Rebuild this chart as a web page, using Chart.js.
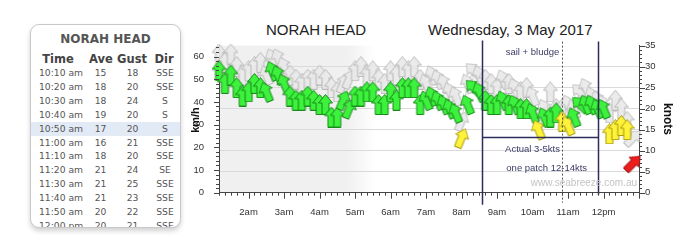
<!DOCTYPE html>
<html>
<head>
<meta charset="utf-8">
<script src="https://cdn.jsdelivr.net/npm/chart.js@4.4.1/dist/chart.umd.min.js"></script>
<style>
body { margin:0; background:#fff; width:700px; height:240px; overflow:hidden; position:relative; font-family:"DejaVu Sans", Verdana, sans-serif; }
#box { position:absolute; left:30px; top:24px; width:149px; height:202px; border:1px solid #c9c9c9; border-radius:9px; box-shadow:0 3px 5px rgba(0,0,0,0.18); overflow:hidden; background:#fff; }
#box .ttl { position:absolute; left:0; width:149px; top:7px; text-align:center; font-weight:bold; font-size:12px; color:#555; }
.row { position:absolute; left:0; width:149px; height:14px; font-size:9.2px; color:#555; }
.row span { position:absolute; top:0; line-height:14px; }
.row .c { width:40px; text-align:center; }
.hdr { font-weight:bold; font-size:11.5px; color:#444; }
.hl { background:#e2eaf5; }
#wrap { position:absolute; left:185px; top:0; }
.title { position:absolute; font-family:"Liberation Sans", Arial, sans-serif; font-size:15px; color:#222; line-height:18px; }
</style>
</head>
<body>
<div id="box"><div class="ttl">NORAH HEAD</div></div>
<div class="title" style="left:266px; top:21px;">NORAH HEAD</div>
<div class="title" style="left:428px; top:21px;">Wednesday, 3 May 2017</div>
<div id="wrap"><canvas id="c" width="515" height="240"></canvas></div>
<script>
// 10分ごとの観測 (knots)
const times = [
  '1:10','1:20','1:30','1:40','1:50',
  '2:00','2:10','2:20','2:30','2:40','2:50',
  '3:00','3:10','3:20','3:30','3:40','3:50',
  '4:00','4:10','4:20','4:30','4:40','4:50',
  '5:00','5:10','5:20','5:30','5:40','5:50',
  '6:00','6:10','6:20','6:30','6:40','6:50',
  '7:00','7:10','7:20','7:30','7:40','7:50',
  '8:00','8:10','8:20','8:30','8:40','8:50',
  '9:00','9:10','9:20','9:30','9:40','9:50',
  '10:00','10:10','10:20','10:30','10:40','10:50',
  '11:00','11:10','11:20','11:30','11:40','11:50',
  '12:00','12:10','12:20','12:30','12:40','12:50'
];
const ave = [
  29,26,28,25,23,24,26,25,24,29,
  28,26,23,22,22,23,22,21,21,18,
  18,22,20,23,23,24,24,21,21,24,
  22,25,25,25,21,22,23,22,21,20,
  19,13,21,25,24,22,21,21,22,21,
  21,20,20,19,15,18,18,19,17,16,
  18,21,21,21,20,20,14,15,16,15,
  7
];
const gust = [
  33,31,33,30,28,29,30,31,28,32,
  32,30,28,27,26,27,27,28,27,25,
  24,26,27,29,30,28,29,27,26,29,
  28,30,29,30,27,26,28,27,26,24,
  23,17,26,29,28,27,26,25,27,26,
  25,24,25,23,18,20,24,20,20,21,
  20,24,25,23,22,21,19,22,20,17,
  13
];
const dirs = [
  'S','S','S','S','S','S','S','S','SSE','SSE',
  'SSE','SSE','S','S','S','S','S','S','S','S',
  'S','SSW','SSW','S','S','S','S','S','S','S',
  'S','S','S','S','S','SSE','SSE','SSE','SSE','SSE',
  'SSE','SSW','SSE','SE','SSE','S','S','S','SSE','S',
  'SSE','S','S','SSE','SSE','SSE','S','S','S','SSE',
  'SSE','SE','SSE','SSE','SSE','SSE','S','S','S','S',
  'SW'
];
const kmhTicks = [0, 10, 20, 30, 40, 50, 60];
const knotTicks = [0, 5, 10, 15, 20, 25, 30, 35];
const hourLabels = ['2am','3am','4am','5am','6am','7am','8am','9am','10am','11am','12pm'];

// 表示する表の範囲
const tableFrom = '10:10', tableTo = '12:00', tableHi = '10:50';

// 注記
const noteStart = '8:35', noteEnd = '11:50', noteCursor = '10:50', noteLevel = 13.3;

const KMH = 1.852;
const compass = { N:0, NNE:22.5, NE:45, ENE:67.5, E:90, ESE:112.5, SE:135, SSE:157.5,
                  S:180, SSW:202.5, SW:225, WSW:247.5, W:270, WNW:292.5, NW:315, NNW:337.5 };

function toMin(t) {
    const p = t.split(':');
    return +p[0] * 60 + +p[1];
}
function amLabel(t) {
    const p = t.split(':');
    const h = +p[0];
    return h + ':' + p[1] + (h < 12 ? ' am' : ' pm');
}

// 表
const box = document.getElementById('box');
function addRow(top, cells, cls) {
    const r = document.createElement('div');
    r.className = 'row' + (cls ? ' ' + cls : '');
    r.style.top = top + 'px';
    cells.forEach(c => {
        const s = document.createElement('span');
        s.textContent = c.t;
        if (c.center !== undefined) { s.className = 'c'; s.style.left = (c.center - 20) + 'px'; }
        else s.style.left = c.left + 'px';
        r.appendChild(s);
    });
    box.appendChild(r);
    return r;
}
const hdr = addRow(26, [{t:'Time', center:27}, {t:'Ave', center:70}, {t:'Gust', center:101}, {t:'Dir', center:133}], 'hdr');
hdr.style.height = '16px';
hdr.querySelectorAll('span').forEach(s => s.style.lineHeight = '16px');
const i0 = times.indexOf(tableFrom), i1 = times.indexOf(tableTo);
for (let i = i0; i <= i1; i++) {
    const n = i - i0;
    addRow(41 + 13.9 * n, [
        {t: amLabel(times[i]), left:8},
        {t: String(ave[i]), center:69.5},
        {t: String(gust[i]), center:101.5},
        {t: dirs[i], center:134}
    ], times[i] === tableHi ? 'hl' : '');
}

// 矢印
function makeArrow(fill, stroke) {
    const c = document.createElement('canvas');
    c.width = 15; c.height = 21;
    const g = c.getContext('2d');
    g.beginPath();
    g.moveTo(7.5, 0.5);
    g.lineTo(14.5, 9);
    g.lineTo(11, 9);
    g.lineTo(11, 20.5);
    g.lineTo(4, 20.5);
    g.lineTo(4, 9);
    g.lineTo(0.5, 9);
    g.closePath();
    g.fillStyle = fill;
    g.fill();
    g.strokeStyle = stroke;
    g.lineWidth = 1;
    g.stroke();
    return c;
}
const greenArrow = makeArrow('#3cf23c', '#1a8a1a');
const yellowArrow = makeArrow('#fff23a', '#a89c10');
const redArrow = makeArrow('#ee1c1c', '#a01010');
const grayArrow = makeArrow('rgba(233,233,233,0.92)', 'rgba(180,180,180,0.9)');

function arrowFor(v) {
    if (v >= 18) return greenArrow;
    if (v >= 10) return yellowArrow;
    return redArrow;
}

const aveData = times.map((t, i) => ({x: toMin(t), y: ave[i]}));
const gustData = times.map((t, i) => ({x: toMin(t), y: gust[i]}));
const rot = dirs.map(d => compass[d] - 180);

const decor = {
    id: 'decor',
    beforeDraw(chart) {
        const {ctx, chartArea: a, scales: {x}} = chart;
        const x1 = x.getPixelForValue(285), x2 = x.getPixelForValue(335);
        const gr = ctx.createLinearGradient(x1, 0, x2, 0);
        gr.addColorStop(0, 'rgba(240,240,240,1)');
        gr.addColorStop(1, 'rgba(240,240,240,0)');
        ctx.save();
        ctx.fillStyle = '#f0f0f0';
        ctx.fillRect(a.left, a.top, x1 - a.left, a.bottom - a.top);
        ctx.fillStyle = gr;
        ctx.fillRect(x1, a.top, x2 - x1, a.bottom - a.top);
        ctx.restore();
    },
    afterDatasetsDraw(chart) {
        const {ctx, chartArea: a, scales: {x, y1}} = chart;
        const xs = Math.round(x.getPixelForValue(toMin(noteStart))) + 0.5;
        const xe = Math.round(x.getPixelForValue(toMin(noteEnd))) + 0.5;
        const xc = Math.round(x.getPixelForValue(toMin(noteCursor))) + 0.5;
        const yl = Math.round(y1.getPixelForValue(noteLevel)) + 0.5;
        ctx.save();
        ctx.strokeStyle = '#2d2d5c';
        ctx.lineWidth = 1.5;
        ctx.beginPath();
        ctx.moveTo(xs, a.top - 5); ctx.lineTo(xs, a.bottom + 12);
        ctx.moveTo(xe, a.top - 4); ctx.lineTo(xe, a.bottom + 2);
        ctx.moveTo(xs, yl); ctx.lineTo(xe, yl);
        ctx.stroke();
        ctx.lineWidth = 1;
        ctx.strokeStyle = '#555';
        ctx.setLineDash([2, 2]);
        ctx.beginPath();
        ctx.moveTo(xc, a.top - 4); ctx.lineTo(xc, a.bottom + 10);
        ctx.stroke();
        ctx.setLineDash([]);

        ctx.fillStyle = '#3a3a66';
        ctx.font = '9.5px "Liberation Sans", Arial, sans-serif';
        ctx.textAlign = 'center';
        ctx.textBaseline = 'middle';
        ctx.fillText('sail + bludge', x.getPixelForValue(600), y1.getPixelForValue(33.4));
        ctx.fillText('Actual 3-5kts', x.getPixelForValue(600), y1.getPixelForValue(10.2));
        ctx.fillText('one patch 12-14kts', x.getPixelForValue(624), y1.getPixelForValue(5.8));
        ctx.fillStyle = '#c4c4c4';
        ctx.font = '10px "Liberation Sans", Arial, sans-serif';
        ctx.textAlign = 'right';
        ctx.fillText('www.seabreeze.com.au', a.right - 2, y1.getPixelForValue(2.2));
        ctx.restore();
    },
    afterDraw(chart) {
        const {ctx, chartArea: a, scales: {x, y, y1}} = chart;
        ctx.save();
        ctx.strokeStyle = '#444';
        ctx.lineWidth = 1;
        ctx.beginPath();
        for (let m = x.min; m <= x.max; m += 10) {
            const px = Math.round(x.getPixelForValue(m)) + 0.5;
            ctx.moveTo(px, a.bottom);
            ctx.lineTo(px, a.bottom + (m % 60 === 0 ? 6 : 3));
        }
        for (let v = 0; v <= 64; v += 2) {
            const py = Math.round(y.getPixelForValue(v)) + 0.5;
            ctx.moveTo(a.left, py);
            ctx.lineTo(a.left - (v % 10 === 0 ? 5 : 3), py);
        }
        for (let v = 0; v <= 35; v += 1) {
            const py = Math.round(y1.getPixelForValue(v)) + 0.5;
            ctx.moveTo(a.right, py);
            ctx.lineTo(a.right + (v % 5 === 0 ? 6 : 3), py);
        }
        ctx.stroke();

        ctx.fillStyle = '#111';
        ctx.textAlign = 'center';
        ctx.textBaseline = 'middle';
        ctx.font = 'bold 11px "Liberation Sans", Arial, sans-serif';
        ctx.translate(11, 120);
        ctx.rotate(-Math.PI / 2);
        ctx.fillText('km/h', 0, 0);
        ctx.restore();
        ctx.save();
        ctx.fillStyle = '#111';
        ctx.textAlign = 'center';
        ctx.textBaseline = 'middle';
        ctx.font = 'bold 12px "Liberation Sans", Arial, sans-serif';
        ctx.translate(482, 119);
        ctx.rotate(Math.PI / 2);
        ctx.fillText('knots', 0, 0);
        ctx.restore();
    }
};

const tickFont = { family: '"Liberation Sans", Arial, sans-serif', size: 9.5 };

new Chart(document.getElementById('c'), {
    type: 'scatter',
    data: {
        datasets: [
            {
                data: aveData,
                yAxisID: 'y1',
                showLine: false,
                clip: false,
                pointStyle: ctx => arrowFor(ctx.raw ? ctx.raw.y : 20),
                rotation: ctx => rot[ctx.dataIndex] || 0,
                pointRadius: 5,
                order: 0
            },
            {
                data: gustData,
                yAxisID: 'y1',
                showLine: true,
                borderColor: 'rgba(200,200,200,0.9)',
                borderWidth: 1,
                clip: false,
                pointStyle: grayArrow,
                rotation: ctx => rot[ctx.dataIndex] || 0,
                pointRadius: 5,
                order: 1
            }
        ]
    },
    options: {
        responsive: false,
        animation: false,
        devicePixelRatio: 1,
        events: [],
        layout: { padding: { top: 45.6, left: 0, right: 0, bottom: 0 } },
        plugins: { legend: { display: false }, tooltip: { enabled: false } },
        scales: {
            x: {
                type: 'linear',
                min: toMin(times[0]),
                max: 780,
                afterFit: s => { s.height = 47.3; },
                grid: { display: false },
                border: { display: true, color: '#444', width: 1 },
                ticks: {
                    stepSize: 60,
                    autoSkip: false,
                    maxRotation: 0,
                    padding: 6,
                    color: '#333',
                    font: tickFont,
                    callback: v => (v % 60 === 0 && v >= 120 && v <= 720) ? hourLabels[v / 60 - 2] : ''
                }
            },
            y: {
                position: 'left',
                min: 0,
                max: 35 * KMH,
                afterFit: s => { s.width = 34; },
                grid: { display: false },
                border: { display: true, color: '#444', width: 1 },
                ticks: {
                    stepSize: 10,
                    padding: 7,
                    color: '#333',
                    font: tickFont,
                    callback: v => kmhTicks.includes(v) ? String(v) : ''
                }
            },
            y1: {
                position: 'right',
                min: 0,
                max: 35,
                afterFit: s => { s.width = 61; },
                grid: {
                    display: true,
                    drawTicks: false,
                    color: c => (c.tick && c.tick.value > 0 && c.tick.value < 35) ? '#dadada' : 'rgba(0,0,0,0)'
                },
                border: { display: true, color: '#444', width: 1 },
                ticks: {
                    stepSize: 5,
                    padding: 6,
                    color: '#333',
                    font: tickFont,
                    callback: v => knotTicks.includes(v) ? String(v) : ''
                }
            }
        }
    },
    plugins: [decor]
});
</script>
</body>
</html>
